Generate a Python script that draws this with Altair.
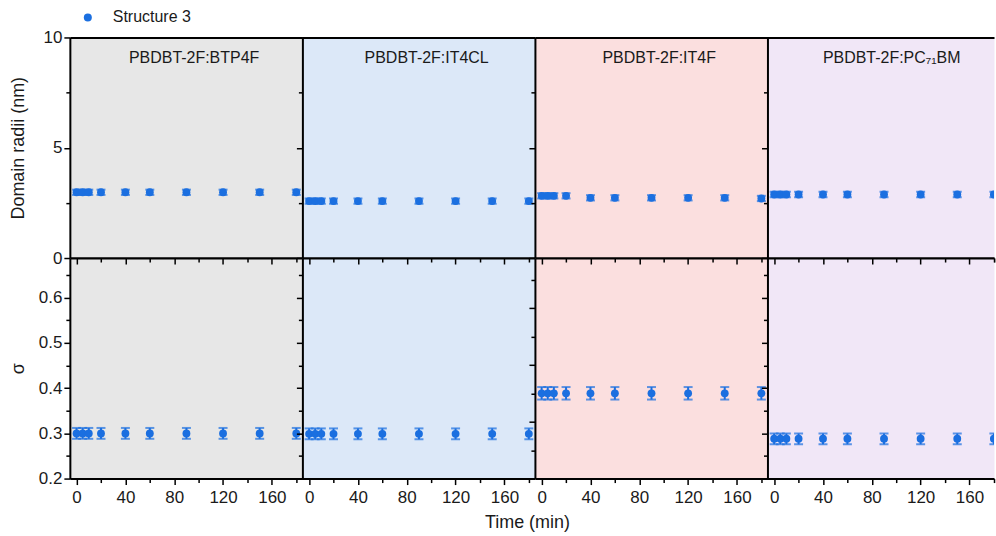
import altair as alt
import pandas as pd

FONT = "Liberation Sans"
BLUE = "#1b6fe0"
INK = "#1a1a1a"

# ---------------- data ----------------
times = [0, 5, 10, 20, 40, 60, 90, 120, 150, 180]
blends = ["PBDBT-2F:BTP4F", "PBDBT-2F:IT4CL", "PBDBT-2F:IT4F", "PBDBT-2F:PC₇₁BM"]
backgrounds = ["#e7e7e7", "#dce8f8", "#fbdfdf", "#f1e7f7"]
series_name = "Structure 3"

radius_btp4f = [2.98, 2.98, 2.98, 2.98, 2.98, 2.98, 2.98, 2.98, 2.98, 2.98]
radius_it4cl = [2.58, 2.58, 2.58, 2.58, 2.58, 2.58, 2.58, 2.58, 2.58, 2.58]
radius_it4f = [2.82, 2.82, 2.82, 2.82, 2.73, 2.73, 2.73, 2.73, 2.73, 2.70]
radius_pc71bm = [2.88, 2.88, 2.88, 2.88, 2.88, 2.88, 2.88, 2.88, 2.88, 2.88]
radius_err = [0.12, 0.12, 0.12, 0.12, 0.12, 0.12, 0.12, 0.12, 0.12, 0.12]

sigma_btp4f = [0.300, 0.300, 0.300, 0.300, 0.300, 0.300, 0.300, 0.300, 0.300, 0.300]
sigma_it4cl = [0.299, 0.299, 0.299, 0.299, 0.299, 0.299, 0.299, 0.299, 0.299, 0.299]
sigma_it4f = [0.350, 0.350, 0.350, 0.350, 0.350, 0.350, 0.350, 0.350, 0.350, 0.350]
sigma_pc71bm = [0.288, 0.288, 0.288, 0.288, 0.288, 0.288, 0.288, 0.288, 0.288, 0.288]
sigma_err = [0.012, 0.012, 0.012, 0.012, 0.012, 0.012, 0.012, 0.012, 0.012, 0.012]
sigma_err_it4f = [0.011, 0.011, 0.011, 0.011, 0.011, 0.011, 0.011, 0.011, 0.011, 0.011]

radius_sets = [radius_btp4f, radius_it4cl, radius_it4f, radius_pc71bm]
sigma_sets = [sigma_btp4f, sigma_it4cl, sigma_it4f, sigma_pc71bm]
sigma_err_sets = [sigma_err, sigma_err, sigma_err_it4f, sigma_err]

x_ticks = [0, 20, 40, 60, 80, 100, 120, 140, 160, 180]
radius_ticks = [0, 2.5, 5, 7.5, 10]
sigma_ticks = [0.2, 0.25, 0.3, 0.35, 0.4, 0.45, 0.5, 0.55, 0.6, 0.65]
sigma_ticks_it4f = [0.25, 0.3, 0.35, 0.4, 0.45, 0.5, 0.55]

x_domain = [-5.5, 185.0]
x_domain_last = [-5.5, 180.1]
radius_domain = [0, 10]
sigma_domain = [0.2, 0.688]
sigma_domain_it4f = [0.2, 0.588]

# ---------------- layout ----------------
PW = 233
PW_LAST = 227
PH = 221

AX = dict(domainColor="black", domainWidth=2, tickColor="black", tickWidth=1.5,
          grid=False, labelFont=FONT, titleFont=FONT, labelColor=INK, titleColor=INK,
          titleFontWeight="normal")

X_MAJOR = "datum.value % 40 === 0"


def x_bottom_axis(row, i):
    kw = dict(AX, orient="bottom", values=x_ticks,
              tickSize={"condition": {"test": X_MAJOR, "value": 6}, "value": 4})
    if row == 1:
        kw.update(labels=True, labelExpr=f"{X_MAJOR} ? datum.label : ''",
                  labelFontSize=17, labelPadding=5, labelFlush=False,
                  labelOverlap=False, format="d")
    else:
        kw.update(labels=False)
    if row == 1 and i == 1:
        kw.update(title="Time (min)", titleFontSize=18, titleX=225, titleY=49,
                  titleAlign="center", titleBaseline="alphabetic")
    else:
        kw.update(title=None)
    return alt.Axis(**kw)


def x_top_axis(row):
    if row == 0:
        return alt.Axis(**AX, orient="top", ticks=False, labels=False, title=None)
    return alt.Axis(**AX, orient="top", values=x_ticks, labels=False, title=None,
                    tickSize={"condition": {"test": X_MAJOR, "value": -6}, "value": -4})


def y_axis(row, i):
    if row == 0:
        major = "datum.value % 5 === 0"
        vals = radius_ticks
        fmt = ".0f"
        title = "Domain radii (nm)"
    else:
        major = "abs(datum.value * 10 - round(datum.value * 10)) < 0.001"
        vals = sigma_ticks_it4f if i == 2 else sigma_ticks
        fmt = ".1f"
        title = "σ"
    kw = dict(AX, orient="left", values=vals, format=fmt,
              tickSize={"condition": {"test": major, "value": 6}, "value": 4},
              labels=(i == 0), labelExpr=f"{major} ? datum.label : ''",
              labelFontSize=17, labelPadding=2, labelFlush=False, labelOverlap=False)
    if i == 0:
        kw.update(title=title, titleFontSize=18, titleX=-51, titleBaseline="middle")
    else:
        kw.update(title=None)
    return alt.Axis(**kw)


def panel(row, i):
    last = i == 3
    width = PW_LAST if last else PW
    xs = alt.Scale(domain=x_domain_last if last else x_domain, nice=False, zero=False)
    if row == 0:
        vals, errs = radius_sets[i], radius_err
        ys = alt.Scale(domain=radius_domain, nice=False, zero=False)
    else:
        vals, errs = sigma_sets[i], sigma_err_sets[i]
        ys = alt.Scale(domain=sigma_domain_it4f if i == 2 else sigma_domain,
                       nice=False, zero=False)
    df = pd.DataFrame({"time": times, "value": vals, "err": errs,
                       "series": [series_name] * len(times)})
    base = alt.Chart(df).transform_calculate(
        lo="datum.value - datum.err", hi="datum.value + datum.err")

    bars = base.mark_rule(color=BLUE, strokeWidth=2, clip=last).encode(
        x=alt.X("time:Q", scale=xs, axis=x_bottom_axis(row, i)),
        y=alt.Y("lo:Q", scale=ys, axis=y_axis(row, i)),
        y2="hi:Q")
    cap_lo = base.mark_tick(orient="horizontal", size=9, thickness=2,
                            color=BLUE, clip=last).encode(
        x=alt.X("time:Q", scale=xs, axis=x_top_axis(row)),
        y=alt.Y("lo:Q", scale=ys, axis=None))
    cap_hi = base.mark_tick(orient="horizontal", size=9, thickness=2,
                            color=BLUE, clip=last).encode(
        x=alt.X("time:Q", scale=xs, axis=None),
        y=alt.Y("hi:Q", scale=ys, axis=None))
    if row == 0 and i == 0:
        legend = alt.Legend(title=None, orient="none", legendX=10, legendY=-28,
                            labelFont=FONT, labelFontSize=16, labelColor=INK,
                            symbolType="circle", symbolSize=64, symbolStrokeWidth=0,
                            labelOffset=17, padding=0)
    else:
        legend = None
    pts = base.mark_circle(size=62, opacity=1, clip=last).encode(
        x=alt.X("time:Q", scale=xs, axis=None),
        y=alt.Y("value:Q", scale=ys, axis=None),
        color=alt.Color("series:N",
                        scale=alt.Scale(domain=[series_name], range=[BLUE]),
                        legend=legend))
    layers = [bars, cap_lo, cap_hi, pts]
    if row == 0:
        title = alt.Chart(pd.DataFrame({"name": [blends[i]]})).mark_text(
            font=FONT, fontSize=16, color=INK, align="center", baseline="middle"
        ).encode(text="name:N", x=alt.value(PW / 2 + 8), y=alt.value(21))
        layers.append(title)
    return alt.layer(*layers).resolve_axis(x="independent", y="independent").properties(
        width=width, height=PH,
        view=alt.ViewBackground(fill=backgrounds[i], stroke="transparent"))


panels = [panel(r, i) for r in range(2) for i in range(4)]

chart = alt.concat(*panels, columns=4, spacing=0, bounds="flush").properties(
    padding={"left": 9, "top": 9, "right": 0, "bottom": 0},
    background="white",
).configure_view(stroke="transparent")

chart.save("out.html", embed_options={"renderer": "svg", "actions": False})
